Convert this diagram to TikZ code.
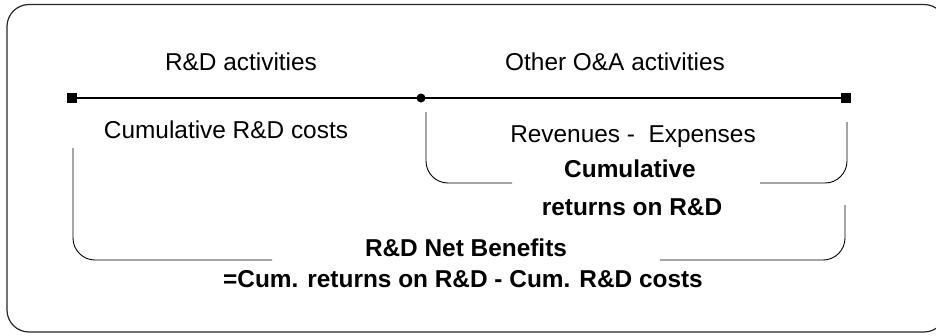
\documentclass[tikz,border=0pt]{standalone}
\usepackage{fontspec}
\setmainfont{Liberation Sans}
\begin{document}
\begin{tikzpicture}[x=1pt,y=-1pt,
  lbl/.style={font=\fontsize{24.4}{29}\selectfont, inner sep=0pt, anchor=base},
  blbl/.style={font=\fontsize{24.4}{29}\selectfont\bfseries, inner sep=0pt, anchor=base},
  frame/.style={draw=black!85, line width=1.2pt, rounded corners=22pt},
  mainline/.style={line width=2.2pt},
  endsq/.style={rectangle, fill=black, minimum size=10pt, inner sep=0pt},
  middot/.style={circle, fill=black, minimum size=9pt, inner sep=0pt},
  bracket/.style={line width=0.9pt, rounded corners=22pt}]
\useasboundingbox (0,0) rectangle (936,335);
\begin{scope}
  \clip (0,0) rectangle (936,335);
  \draw[frame] (7,4.5) rectangle (946,332);
\end{scope}

% timeline
\node[endsq] (sqL) at (72,98) {};
\node[middot] (dot) at (421,98) {};
\node[endsq] (sqR) at (846,98) {};
\draw[mainline] (sqL.center) -- (dot.center) -- (sqR.center);

% labels
\node[lbl] (rda) at (241,70) {R\&D activities};
\node[lbl] (oaa) at (615,70) {Other O\&A activities};
\node[lbl] (crd) at (226,138) {Cumulative R\&D costs};
\node[lbl] (rev) at (633,142) {Revenues -\ \ Expenses};
\node[blbl] (cum) at (630,177) {Cumulative};
\node[blbl] (ret) at (632,215) {returns on R\&D};
\node[blbl] (nb) at (466,256) {R\&D Net Benefits};
\node[blbl] (eq) at (463,287) {=Cum. returns on R\&D - Cum. R\&D costs};

% bracket: cumulative returns
\coordinate (b1a) at (426,112);
\coordinate (b1b) at (512,183);
\coordinate (b1c) at (760,183);
\coordinate (b1d) at (847,122);
\draw[bracket] (b1a) |- (b1b);
\draw[bracket] (b1c) -| (b1d);

% bracket: net benefits
\coordinate (b2a) at (73,148);
\coordinate (b2b) at (272,260);
\coordinate (b2c) at (660,260);
\coordinate (b2d) at (845,205);
\draw[bracket] (b2a) |- (b2b);
\draw[bracket] (b2c) -| (b2d);
\end{tikzpicture}
\end{document}
